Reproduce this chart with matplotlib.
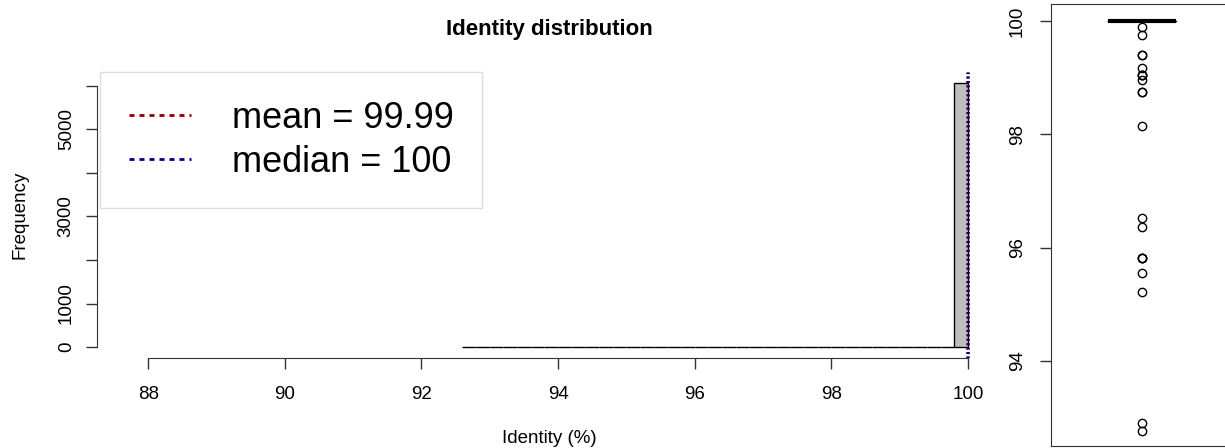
import numpy as np
import matplotlib
matplotlib.use('Agg')
import matplotlib.pyplot as plt
from matplotlib.lines import Line2D

plt.rcParams['font.family'] = ['Liberation Sans', 'DejaVu Sans']

# identity values (%) below 100
low_identity = [99.90, 99.75, 99.40, 99.40, 99.17, 99.05, 99.05, 99.05, 98.96,
                98.74, 98.74, 98.14, 96.53, 96.36, 95.81, 95.81, 95.81,
                95.56, 95.21, 92.90, 92.76]
n_full = 6050  # hits at exactly 100 %
bin_edges = np.linspace(92.6, 100.0, 38)
x_ticks = [88, 90, 92, 94, 96, 98, 100]
y_ticks = [0, 1000, 2000, 3000, 4000, 5000, 6000]
y_ticklabels = ['0', '1000', '', '3000', '', '5000', '']
box_ticks = [94, 96, 98, 100]

identity = np.concatenate([np.full(n_full, 100.0), low_identity])
mean_id = identity.mean()
median_id = np.median(identity)

W, H = 1225, 448
fig = plt.figure(figsize=(W / 100, H / 100), dpi=100)

#histogram panel
ax = fig.add_axes([97 / W, (H - 358) / H, 905 / W, 286 / H])
ax.hist(identity, bins=bin_edges, color='#bebebe', edgecolor='black', linewidth=1)
ax.axvline(mean_id, color='#8b0000', lw=2, ls=(0, (0.7, 0.9)))
ax.axvline(median_id, color='#00008b', lw=2, ls=(0, (0.7, 0.9)))
ax.set_xlim(87.25, 100.5)
ax.set_ylim(-250, 6310)
for s in ['top', 'right']:
    ax.spines[s].set_visible(False)
ax.spines['left'].set_bounds(0, 6000)
ax.spines['bottom'].set_bounds(88, 100)
ax.spines['left'].set_color('#333333')
ax.spines['bottom'].set_color('#333333')
ax.set_xticks(x_ticks)
ax.set_yticks(y_ticks)
ax.set_yticklabels(y_ticklabels)
ax.tick_params(axis='x', length=8, width=1, color='#333333', labelsize=13.5, pad=12)
ax.tick_params(axis='y', length=8, width=1, color='#333333', labelsize=13.5, pad=8,
               labelrotation=90)
for t in ax.get_yticklabels():
    t.set_va('center')
ax.set_title('Identity distribution', fontsize=16, fontweight='bold', pad=27)
ax.set_xlabel('Identity (%)', fontsize=13.5)
ax.xaxis.label.set_va('center')
ax.xaxis.set_label_coords(0.5, -0.28)
ax.set_ylabel('Frequency', fontsize=13.5)
ax.yaxis.label.set_va('center')
ax.yaxis.set_label_coords(-0.085, 0.5)

handles = [Line2D([], [], color='#8b0000', lw=2, ls=(0, (1.8, 1.8))),
           Line2D([], [], color='#00008b', lw=2, ls=(0, (1.8, 1.8)))]
labels = ['mean = %.2f' % mean_id, 'median = %g' % median_id]
leg = ax.legend(handles, labels, loc='upper left', bbox_to_anchor=(0.003, 1.0),
                borderaxespad=0, fontsize=26, handlelength=1.72, handletextpad=1.13,
                borderpad=0.8, labelspacing=0.24, fancybox=False, framealpha=1)
leg.get_frame().set_edgecolor('#dddddd')
leg.get_frame().set_linewidth(1)

#boxplot panel
ax2 = fig.add_axes([1051 / W, (H - 446) / H, 182 / W, 442 / H])
ax2.boxplot(identity, positions=[1], widths=0.37,
            medianprops=dict(color='black', lw=3),
            flierprops=dict(marker='o', markerfacecolor='none', markeredgecolor='black',
                            markersize=6, markeredgewidth=1))
ax2.set_xlim(0.5, 1.5)
ax2.set_ylim(92.5, 100.3)
ax2.set_xticks([])
ax2.set_yticks(box_ticks)
ax2.tick_params(axis='y', length=8, width=1, color='#333333', labelsize=13.5, pad=10,
                labelrotation=90)
for t in ax2.get_yticklabels():
    t.set_va('center')
for s in ax2.spines.values():
    s.set_color('#333333')

fig.savefig('out.png', dpi=100)
